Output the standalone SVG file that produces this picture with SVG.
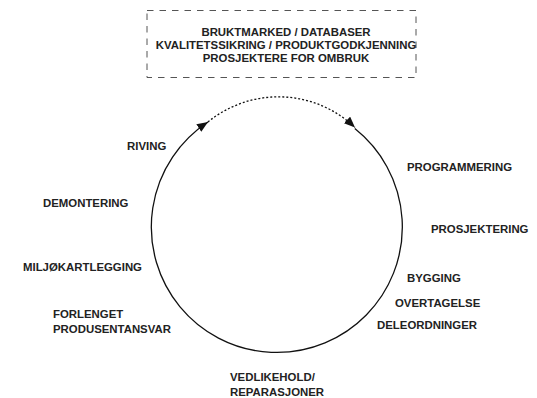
<svg xmlns="http://www.w3.org/2000/svg" width="537" height="398" viewBox="0 0 537 398">
<style>
text{font-family:"Liberation Sans",Arial,sans-serif;font-weight:bold;font-size:11.4px;fill:#222}
.c{text-anchor:middle}
.arc{fill:none;stroke:#111;stroke-width:1.3}
</style>
<defs>
<marker id="ah" markerUnits="userSpaceOnUse" markerWidth="12" markerHeight="10" refX="11" refY="4.5" orient="auto">
<path d="M0,0 L11,4.5 L0,9 z" fill="#111"/>
</marker>
</defs>
<rect width="537" height="398" fill="#fff"/>
<g id="box">
<rect x="147" y="10.5" width="269" height="67" fill="none" stroke="#555" stroke-width="1" stroke-dasharray="6.5 6"/>
<text class="c" x="286" y="35.5">BRUKTMARKED / DATABASER</text>
<text class="c" x="286" y="48.5">KVALITETSSIKRING / PRODUKTGODKJENNING</text>
<text class="c" x="286" y="61.5">PROSJEKTERE FOR OMBRUK</text>
</g>
<g id="connectors">
<path class="arc" d="M354.8 128.6 A125.5 125.5 0 1 1 208 122" marker-end="url(#ah)"/>
<path class="arc" d="M208 122 A111 111 0 0 1 355 127.5" stroke-dasharray="2 2" marker-end="url(#ah)"/>
</g>
<g id="riving"><text x="127" y="150">RIVING</text></g>
<g id="demontering"><text x="43" y="207">DEMONTERING</text></g>
<g id="miljokartlegging"><text x="23" y="271">MILJØKARTLEGGING</text></g>
<g id="forlenget"><text x="53" y="318">FORLENGET</text><text x="53" y="333">PRODUSENTANSVAR</text></g>
<g id="programmering"><text x="407" y="171">PROGRAMMERING</text></g>
<g id="prosjektering"><text x="431" y="233">PROSJEKTERING</text></g>
<g id="bygging"><text x="407" y="282">BYGGING</text></g>
<g id="overtagelse"><text x="395" y="307">OVERTAGELSE</text></g>
<g id="deleordninger"><text x="377" y="329">DELEORDNINGER</text></g>
<g id="vedlikehold"><text x="230" y="381">VEDLIKEHOLD/</text><text x="230" y="396">REPARASJONER</text></g>
</svg>
